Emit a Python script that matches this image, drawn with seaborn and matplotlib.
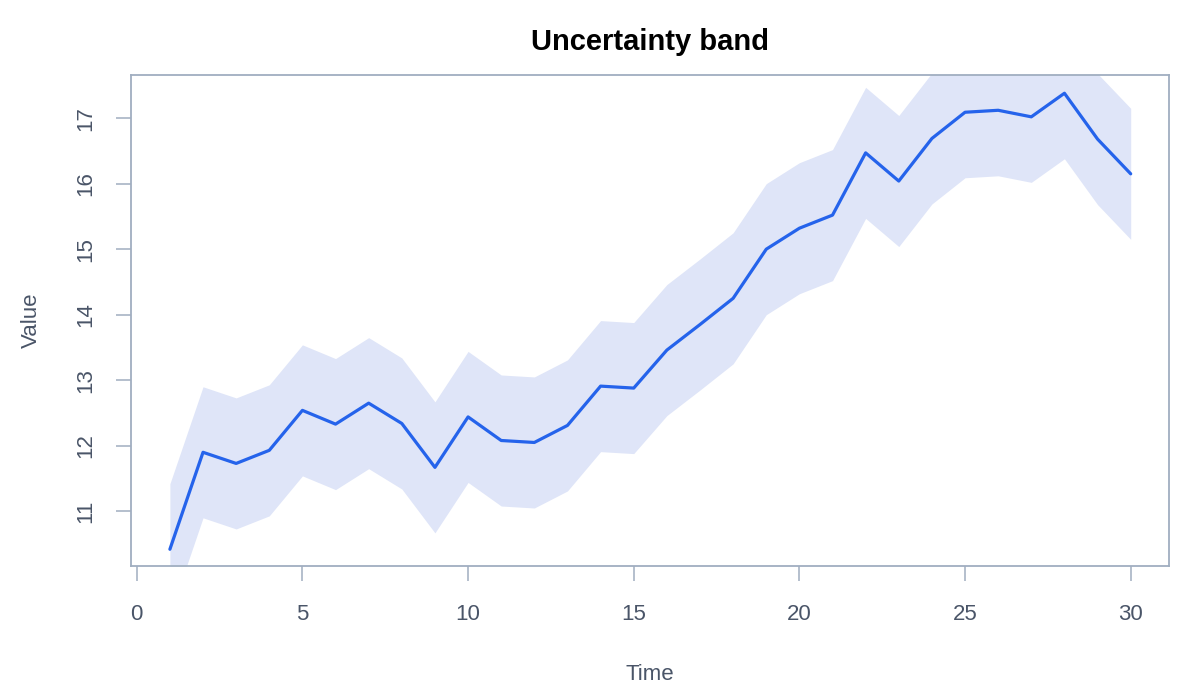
import numpy as np
import pandas as pd
import matplotlib
matplotlib.use('Agg')
import matplotlib.pyplot as plt
import seaborn as sns

# Data
time = list(range(1, 31))
value = [10.42, 11.90, 11.73, 11.93, 12.54, 12.33, 12.65, 12.34, 11.67, 12.44,
         12.08, 12.05, 12.31, 12.91, 12.88, 13.46, 13.85, 14.25, 15.00, 15.32,
         15.52, 16.47, 16.04, 16.69, 17.09, 17.12, 17.02, 17.38, 16.68, 16.15]
lower = [9.42, 10.90, 10.73, 10.93, 11.54, 11.33, 11.65, 11.34, 10.67, 11.44,
         11.08, 11.05, 11.31, 11.91, 11.88, 12.46, 12.85, 13.25, 14.00, 14.32,
         14.52, 15.47, 15.04, 15.69, 16.09, 16.12, 16.02, 16.38, 15.68, 15.15]
upper = [11.42, 12.90, 12.73, 12.93, 13.54, 13.33, 13.65, 13.34, 12.67, 13.44,
         13.08, 13.05, 13.31, 13.91, 13.88, 14.46, 14.85, 15.25, 16.00, 16.32,
         16.52, 17.47, 17.04, 17.69, 18.09, 18.12, 18.02, 18.38, 17.68, 17.15]
x_ticks = [0, 5, 10, 15, 20, 25, 30]
y_ticks = [11, 12, 13, 14, 15, 16, 17]

df = pd.DataFrame({'Time': time, 'Value': value, 'lower': lower, 'upper': upper})

sns.set_style('white')
plt.rcParams['font.family'] = ['Liberation Sans', 'DejaVu Sans']

axis_col = '#A0AEC0'
text_col = '#4A5568'
line_col = '#2563EB'

fig = plt.figure(figsize=(12, 7), dpi=100)
ax = fig.add_axes([0.109, 0.191, 0.865, 0.702])

ax.fill_between(df['Time'], df['lower'], df['upper'], color='#DFE5F8', linewidth=0)
sns.lineplot(data=df, x='Time', y='Value', ax=ax, color=line_col, linewidth=2.3)

ax.set_xlim(-0.18, 31.15)
ax.set_ylim(10.16, 17.66)
ax.set_xticks(x_ticks)
ax.set_yticks(y_ticks)

for s in ax.spines.values():
    s.set_color(axis_col)
    s.set_linewidth(1.3)

ax.tick_params(axis='both', direction='out', length=11, width=1.1, color=axis_col,
               labelcolor=text_col, labelsize=16, bottom=True, left=True)
ax.tick_params(axis='x', pad=16)
ax.tick_params(axis='y', pad=14)
for lab in ax.get_yticklabels():
    lab.set_rotation(90)
    lab.set_va('center')

ax.set_xlabel('Time', fontsize=16, color=text_col, labelpad=28)
ax.set_ylabel('Value', fontsize=16, color=text_col, labelpad=24)
ax.set_title('Uncertainty band', fontsize=21, fontweight='bold', color='black', pad=18)

fig.savefig('out.png', dpi=100)
